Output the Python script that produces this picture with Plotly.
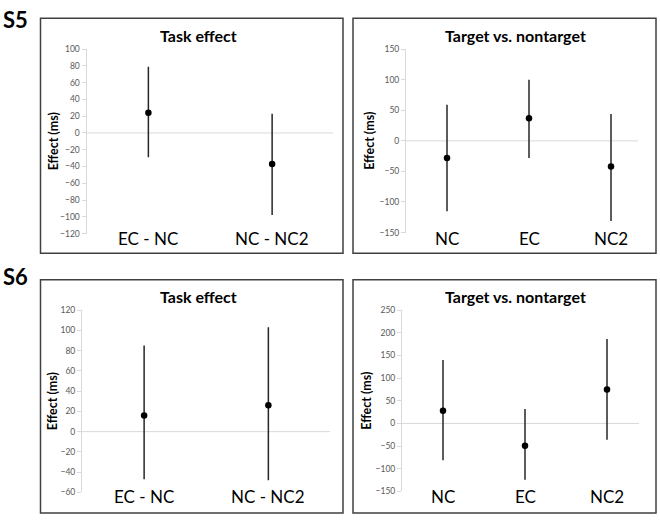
import plotly.graph_objects as go

W, H = 660, 521

# ---------------- data ----------------
task_categories = ["EC - NC", "NC - NC2"]
target_categories = ["NC", "EC", "NC2"]

s5_task_mean = [24, -37]
s5_task_upper = [79, 23]
s5_task_lower = [-29, -98]

s5_target_mean = [-28, 37, -42]
s5_target_upper = [59, 100, 44]
s5_target_lower = [-115, -28, -131]

s6_task_mean = [16, 26]
s6_task_upper = [85, 103]
s6_task_lower = [-47, -48]

s6_target_mean = [28, -49, 75]
s6_target_upper = [140, 32, 186]
s6_target_lower = [-81, -124, -36]

panel_titles = ["Task effect", "Target vs. nontarget", "Task effect", "Target vs. nontarget"]
subject_labels = ["S5", "S6"]
y_title = "Effect (ms)"

FONT = "Lato, 'Open Sans', sans-serif"


def px(x):
    return x / W


def py(y):
    return 1 - y / H


panels = [
    dict(cats=task_categories, mean=s5_task_mean, up=s5_task_upper, lo=s5_task_lower,
         yr=[-120, 100], dt=20, plot=(86.5, 334, 45, 233), border=(40.5, 13.5, 343, 253),
         zend=333, title=(198, 31.5), ytx=53, labshift=-5),
    dict(cats=target_categories, mean=s5_target_mean, up=s5_target_upper, lo=s5_target_lower,
         yr=[-150, 150], dt=50, plot=(406, 652, 45, 232), border=(353, 13.5, 656, 253),
         zend=638, title=(515, 31.5), ytx=370, labshift=-6),
    dict(cats=task_categories, mean=s6_task_mean, up=s6_task_upper, lo=s6_task_lower,
         yr=[-60, 120], dt=20, plot=(82, 330.5, 311, 497), border=(40.5, 280, 343, 518),
         zend=330, title=(198, 297.5), ytx=52, labshift=-4.5),
    dict(cats=target_categories, mean=s6_target_mean, up=s6_target_upper, lo=s6_target_lower,
         yr=[-150, 250], dt=50, plot=(402, 648, 311, 496), border=(353, 280, 656, 518),
         zend=639, title=(515, 297), ytx=367, labshift=-5.5),
]

fig = go.Figure()
shapes = []
annotations = []

for i, p in enumerate(panels):
    n = i + 1
    xa = "x" if n == 1 else f"x{n}"
    ya = "y" if n == 1 else f"y{n}"
    xkey = "xaxis" if n == 1 else f"xaxis{n}"
    ykey = "yaxis" if n == 1 else f"yaxis{n}"
    x0, x1, yt, yb = p["plot"]

    err_plus = [u - m for u, m in zip(p["up"], p["mean"])]
    err_minus = [m - l for m, l in zip(p["mean"], p["lo"])]

    fig.add_trace(go.Scatter(
        x=p["cats"], y=p["mean"], mode="markers", xaxis=xa, yaxis=ya,
        marker=dict(color="black", size=6.5),
        error_y=dict(type="data", array=err_plus, arrayminus=err_minus,
                     color="#262626", thickness=1.5, width=0, visible=True),
        showlegend=False, hoverinfo="skip", cliponaxis=False,
    ))

    fig.update_layout(**{
        xkey: dict(domain=[px(x0), px(x1)], anchor=ya, type="category",
                   range=[-0.5, len(p["cats"]) - 0.5], showticklabels=False,
                   showgrid=False, zeroline=False, showline=False, ticks=""),
        ykey: dict(domain=[py(yb), py(yt)], anchor=xa, range=p["yr"], dtick=p["dt"],
                   tick0=0, showgrid=False, zeroline=False, showline=True,
                   linecolor="#d9d9d9", linewidth=1, ticks="outside", ticklen=4,
                   tickcolor="#d9d9d9", tickwidth=1,
                   tickfont=dict(family=FONT, size=8.5, color="#595959")),
    })

    shapes.append(dict(type="line", xref=f"{xa} domain", yref=ya,
                       x0=0, x1=(p["zend"] - x0) / (x1 - x0), y0=0, y1=0,
                       line=dict(color="#d9d9d9", width=1), layer="below"))
    bx0, by0, bx1, by1 = p["border"]
    shapes.append(dict(type="rect", xref="paper", yref="paper",
                       x0=px(bx0), x1=px(bx1), y0=py(by1), y1=py(by0),
                       line=dict(color="#404040", width=1.5)))
    annotations.append(dict(text=f"<b>{panel_titles[i]}</b>", xref="paper", yref="paper",
                            x=px(p["title"][0]), y=py(p["title"][1]), xanchor="center",
                            yanchor="middle", showarrow=False,
                            font=dict(family=FONT, size=16, color="black")))
    annotations.append(dict(text=f"<b>{y_title}</b>", xref="paper", yref="paper",
                            x=px(p["ytx"]), y=py((yt + yb) / 2), textangle=-90,
                            xanchor="center", yanchor="middle", showarrow=False,
                            font=dict(family=FONT, size=12.5, color="black")))
    for c in p["cats"]:
        annotations.append(dict(text=c, xref=xa, yref=f"{ya} domain", x=c, y=0,
                                xanchor="center", yanchor="middle", yshift=p["labshift"],
                                showarrow=False,
                                font=dict(family=FONT, size=17, color="black")))

for lab, yc in zip(subject_labels, [14.5, 277]):
    annotations.append(dict(text=f"<b>{lab}</b>", xref="paper", yref="paper",
                            x=px(15), y=py(yc), xanchor="center", yanchor="middle",
                            showarrow=False, font=dict(family=FONT, size=22, color="black")))

fig.update_layout(width=W, height=H, margin=dict(l=0, r=0, t=0, b=0),
                  paper_bgcolor="white", plot_bgcolor="white",
                  shapes=shapes, annotations=annotations)

# remove the default page margin so the figure sits at the window's origin
fig.write_html("out.html", config={"displayModeBar": False},
               post_script="document.body.style.margin='0';document.body.style.overflow='hidden';")
